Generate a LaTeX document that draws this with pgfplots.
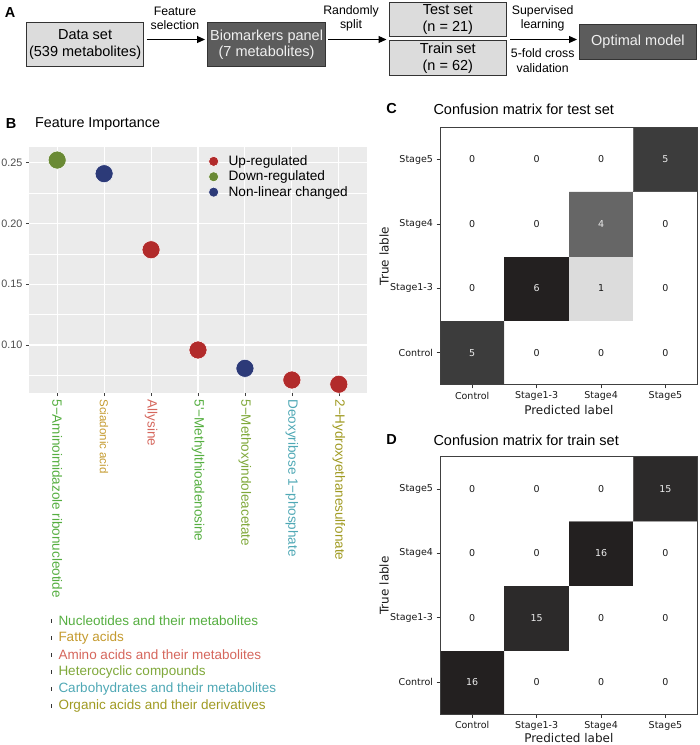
\documentclass[border=0pt]{standalone}
\usepackage{pgfplots}
\pgfplotsset{compat=1.18}
\usepackage{fontspec}
\setmainfont{Liberation Sans}
\newfontfamily\dejavu{DejaVu Sans}
\usetikzlibrary{arrows.meta}
\definecolor{upred}{HTML}{B22B2B}
\definecolor{downgreen}{HTML}{6A8A35}
\definecolor{nonblue}{HTML}{2C3A78}
\definecolor{cnuc}{HTML}{55AE40}
\definecolor{cfat}{HTML}{C49A2E}
\definecolor{camino}{HTML}{D5665C}
\definecolor{chet}{HTML}{7FA83A}
\definecolor{ccarb}{HTML}{4FA8B5}
\definecolor{corg}{HTML}{A09A22}
\definecolor{panelbg}{HTML}{EBEBEB}
\definecolor{lightbox}{HTML}{DCDCDC}
\definecolor{darkbox}{HTML}{5C5C5C}
\newcommand{\fs}[2]{\fontsize{#1}{#2}\selectfont}
\pgfplotsset{colormap={cmgrey}{rgb255(0cm)=(255,255,255) rgb255(1cm)=(220,220,220) rgb255(4cm)=(102,102,102) rgb255(5cm)=(60,60,60) rgb255(6cm)=(35,32,32)}}
\pgfplotsset{cmstyle/.style={
  anchor=north west, scale only axis, width=257.7pt, height=257.5pt,
  xmin=-0.5, xmax=3.5, ymin=-0.5, ymax=3.5,
  xtick={0,1,2,3}, ytick={0,1,2,3},
  xticklabels={Control,Stage1-3,Stage4,Stage5},
  yticklabels={Control,Stage1-3,Stage4,Stage5},
  tick align=outside, xtick pos=bottom, ytick pos=left,
  major tick length=3.5pt, tick style={black!80, line width=0.7pt},
  tick label style={font=\dejavu\fs{9.5}{11}, color=black!90},
  label style={font=\dejavu\fs{12}{14}, color=black!90},
  xlabel={Predicted label}, ylabel={True lable},
  axis line style={draw=black!75, line width=0.9pt},
  axis on top=true,
  colormap name=cmgrey, point meta min=0,
}}
\begin{document}
\begin{tikzpicture}
\useasboundingbox (0,0) rectangle (700pt,-745pt);
% ---------------- Panel A
\node[font=\bfseries\fs{14.5}{17}] at (10pt,-13pt) {A};
\tikzset{box/.style={draw=black!80, line width=0.9pt, anchor=north west, inner sep=0pt, align=center, font=\fs{14.5}{16.6}}}
\node[box, fill=lightbox, minimum width=117.3pt, minimum height=43.7pt] at (26pt,-22.3pt) {Data set\\(539 metabolites)};
\node[box, fill=darkbox, text=white!94!black, minimum width=117.7pt, minimum height=43.7pt] at (207.3pt,-22.3pt) {Biomarkers panel\\(7 metabolites)};
\node[box, fill=lightbox, minimum width=116.7pt, minimum height=33.7pt] at (389pt,-2.3pt) {Test set\\(n = 21)};
\node[box, fill=lightbox, minimum width=116.7pt, minimum height=35pt] at (389pt,-40pt) {Train set\\(n = 62)};
\node[box, fill=darkbox, text=white!94!black, minimum width=116.4pt, minimum height=35pt] at (579.3pt,-24pt) {Optimal model};
\draw[-{Triangle[length=8pt,width=7pt]}, line width=1.1pt] (146.7pt,-39.5pt) -- (205pt,-39.5pt);
\draw[-{Triangle[length=8pt,width=7pt]}, line width=1.1pt] (328pt,-39.5pt) -- (386.5pt,-39.5pt);
\draw[-{Triangle[length=8pt,width=7pt]}, line width=1.1pt] (510pt,-39.5pt) -- (577pt,-39.5pt);
\node[align=center, font=\fs{12.3}{14.7}] at (175pt,-18.3pt) {Feature\\selection};
\node[align=center, font=\fs{12.3}{14.7}] at (351pt,-18.3pt) {Randomly\\split};
\node[align=center, font=\fs{12.3}{14.7}] at (542.7pt,-18.3pt) {Supervised\\learning};
\node[align=center, font=\fs{12.3}{14.7}] at (542.7pt,-60.5pt) {5-fold cross\\validation};
% ---------------- Panel B
\node[font=\bfseries\fs{14.5}{17}] at (11pt,-124pt) {B};
\node[anchor=west, inner sep=0pt, font=\fs{14.3}{17}] at (35pt,-124pt) {Feature Importance};
\begin{axis}[at={(29pt,-146.7pt)}, anchor=north west, scale only axis,
  width=338pt, height=246.3pt,
  xmin=0.4, xmax=7.6, ymin=0.0605, ymax=0.2632,
  axis background/.style={fill=panelbg},
  axis line style={draw=none},
  grid=both,
  major grid style={white, line width=1.1pt},
  minor grid style={white, line width=0.55pt},
  xtick={1,2,3,4,5,6,7},
  ytick={0.10,0.15,0.20,0.25},
  minor ytick={0.075,0.125,0.175,0.225},
  tick align=outside, xtick pos=bottom, ytick pos=left,
  major tick length=3pt, minor tick length=0pt,
  tick style={black!75, line width=0.6pt},
  /pgf/number format/assume math mode=true,
  yticklabel style={font=\fs{10.8}{12}, color=black!70,
    /pgf/number format/fixed, /pgf/number format/fixed zerofill,
    /pgf/number format/precision=2},
  xticklabel style={rotate=-90, anchor=west, font=\fs{13.5}{15}},
  xticklabels={{\color{cnuc}5−Aminoimidazole ribonucleotide},
    {\fs{11.5}{13}\color{cfat}Sciadonic acid},
    {\color{camino}Allysine},
    {\color{cnuc}5\textquotesingle−Methylthioadenosine},
    {\color{chet}5−Methoxyindoleacetate},
    {\color{ccarb}Deoxyribose 1−phosphate},
    {\color{corg}2−Hydroxyethanesulfonate}},
  legend style={at={(0.522,0.878)}, anchor=west, draw=none, fill=none,
    font=\fs{13.65}{15}, row sep=0pt,
    /tikz/every odd column/.append style={column sep=8pt}},
  legend cell align=left,
  legend image post style={mark size=5pt},
  clip=false,
]
\addplot[only marks, mark=*, mark size=9pt, color=upred,
  mark options={draw=white, line width=0.5pt, fill=upred}]
  coordinates {(3,0.1784) (4,0.0959) (6,0.0712) (7,0.0677)};
\addlegendentry{Up-regulated}
\addplot[only marks, mark=*, mark size=9pt, color=downgreen,
  mark options={draw=white, line width=0.5pt, fill=downgreen}]
  coordinates {(1,0.2522)};
\addlegendentry{Down-regulated}
\addplot[only marks, mark=*, mark size=9pt, color=nonblue,
  mark options={draw=white, line width=0.5pt, fill=nonblue}]
  coordinates {(2,0.2410) (5,0.0808)};
\addlegendentry{Non-linear changed}
\end{axis}
% category legend
\foreach \yy/\cc/\tt in {620.7/cnuc/{Nucleotides and their metabolites},
  637.7/cfat/{Fatty acids},
  654.8/camino/{Amino acids and their metabolites},
  671.8/chet/{Heterocyclic compounds},
  688.9/ccarb/{Carbohydrates and their metabolites},
  705.8/corg/{Organic acids and their derivatives}} {
  \fill[black!80] (51.2pt,-\yy pt+1.8pt) rectangle (52.4pt,-\yy pt-1.8pt);
  \node[anchor=west, inner sep=0pt, font=\fs{13.5}{15}, text=\cc] at (58.3pt,-\yy pt) {\tt};
}
% ---------------- Panel C
\node[font=\bfseries\fs{14.5}{17}] at (391.7pt,-109pt) {C};
\node[anchor=west, inner sep=0pt, font=\fs{14.5}{17}] at (433.3pt,-109pt) {Confusion matrix for test set};
\begin{axis}[cmstyle, at={(440pt,-127.3pt)}, point meta max=6,
  xlabel style={at={(axis description cs:0.5,-0.097)}, anchor=center},
  ylabel style={at={(axis description cs:-0.217,0.5)}, anchor=center}]
\addplot[matrix plot*, mesh/cols=4, point meta=explicit] table[meta=c] {
x y c
0 0 5
1 0 0
2 0 0
3 0 0
0 1 0
1 1 6
2 1 1
3 1 0
0 2 0
1 2 0
2 2 4
3 2 0
0 3 0
1 3 0
2 3 0
3 3 5
};
\addplot[only marks, mark=none, nodes near coords, point meta=explicit symbolic,
  nodes near coords align=center,
  nodes near coords style={font=\dejavu\fs{9.5}{11}, color=black!90, anchor=center}]
  table[meta=c] {
x y c
1 0 0
2 0 0
3 0 0
0 1 0
2 1 1
3 1 0
0 2 0
1 2 0
3 2 0
0 3 0
1 3 0
2 3 0
};
\addplot[only marks, mark=none, nodes near coords, point meta=explicit symbolic,
  nodes near coords align=center,
  nodes near coords style={font=\dejavu\fs{9.5}{11}, color=white!92!black, anchor=center}]
  table[meta=c] {
x y c
0 0 5
1 1 6
2 2 4
3 3 5
};
\end{axis}
% ---------------- Panel D
\node[font=\bfseries\fs{14.5}{17}] at (391.7pt,-440pt) {D};
\node[anchor=west, inner sep=0pt, font=\fs{14.5}{17}] at (433.3pt,-440pt) {Confusion matrix for train set};
\begin{axis}[cmstyle, at={(440pt,-456.7pt)}, point meta max=16,
  xlabel style={at={(axis description cs:0.5,-0.0944)}, anchor=center},
  ylabel style={at={(axis description cs:-0.217,0.5)}, anchor=center}]
\addplot[matrix plot*, mesh/cols=4, point meta=explicit] table[meta=c] {
x y c
0 0 16
1 0 0
2 0 0
3 0 0
0 1 0
1 1 15
2 1 0
3 1 0
0 2 0
1 2 0
2 2 16
3 2 0
0 3 0
1 3 0
2 3 0
3 3 15
};
\addplot[only marks, mark=none, nodes near coords, point meta=explicit symbolic,
  nodes near coords align=center,
  nodes near coords style={font=\dejavu\fs{9.5}{11}, color=black!90, anchor=center}]
  table[meta=c] {
x y c
1 0 0
2 0 0
3 0 0
0 1 0
2 1 0
3 1 0
0 2 0
1 2 0
3 2 0
0 3 0
1 3 0
2 3 0
};
\addplot[only marks, mark=none, nodes near coords, point meta=explicit symbolic,
  nodes near coords align=center,
  nodes near coords style={font=\dejavu\fs{9.5}{11}, color=white!92!black, anchor=center}]
  table[meta=c] {
x y c
0 0 16
1 1 15
2 2 16
3 3 15
};
\end{axis}
\end{tikzpicture}
\end{document}
